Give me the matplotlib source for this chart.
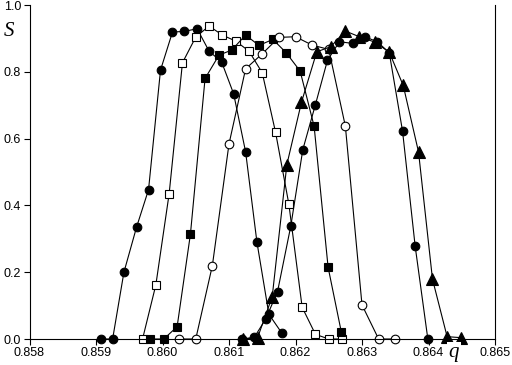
import matplotlib
matplotlib.use("Agg")
import matplotlib.pyplot as plt

# Series A: filled circles (leftmost)
qa = [0.85907, 0.85925, 0.85942, 0.85961, 0.85979, 0.85997, 0.86015, 0.86033,
      0.86052, 0.86070, 0.86089, 0.86107, 0.86125, 0.86142, 0.86160, 0.86179]
sa = [0.0, 0.0, 0.20, 0.335, 0.447, 0.805, 0.919, 0.921,
      0.929, 0.862, 0.829, 0.734, 0.56, 0.29, 0.074, 0.019]

# Series B: open squares
qb = [0.8597, 0.8599, 0.8601, 0.8603, 0.8605, 0.8607, 0.8609, 0.8611,
      0.8613, 0.8615, 0.8617, 0.8619, 0.8621, 0.8623, 0.8625, 0.8627]
sb = [0.0, 0.162, 0.435, 0.827, 0.904, 0.937, 0.91, 0.892,
      0.862, 0.797, 0.619, 0.404, 0.095, 0.014, 0.0, 0.0]

# Series C: filled squares
qc = [0.85981, 0.86002, 0.86022, 0.86042, 0.86064, 0.86085, 0.86104, 0.86125,
      0.86145, 0.86166, 0.86186, 0.86207, 0.86228, 0.86249, 0.86269]
sc = [0.0, 0.0, 0.037, 0.314, 0.78, 0.85, 0.865, 0.91,
      0.879, 0.897, 0.857, 0.802, 0.637, 0.215, 0.02]

# Series D: open circles
qd = [0.86025, 0.86050, 0.86075, 0.86100, 0.86125, 0.86150, 0.86175,
      0.86200, 0.86225, 0.86250, 0.86275, 0.86300, 0.86325, 0.86350]
sd = [0.0, 0.0, 0.22, 0.584, 0.809, 0.854, 0.903,
      0.905, 0.88, 0.867, 0.637, 0.102, 0.0, 0.0]

# Series E: filled circles (right)
qe = [0.86119, 0.86138, 0.86155, 0.86173, 0.86193, 0.86211, 0.86230, 0.86248,
      0.86266, 0.86286, 0.86304, 0.86323, 0.86341, 0.86361, 0.86380, 0.86399]
se = [0.0, 0.005, 0.059, 0.142, 0.339, 0.567, 0.702, 0.834,
      0.89, 0.885, 0.905, 0.89, 0.857, 0.622, 0.277, 0.0]

# Series F: filled triangles
qf = [0.86121, 0.86143, 0.86165, 0.86187, 0.86209, 0.86232, 0.86253, 0.86275,
      0.86296, 0.86319, 0.86341, 0.86362, 0.86385, 0.86406, 0.86428, 0.86449]
sf = [0.0, 0.004, 0.127, 0.522, 0.709, 0.86, 0.875, 0.922,
      0.905, 0.889, 0.859, 0.759, 0.56, 0.179, 0.007, 0.004]

xticks = [0.858, 0.859, 0.860, 0.861, 0.862, 0.863, 0.864, 0.865]
xticklabels = ["0.858", "0.859", "0.860", "0.861", "0.862", "0.863", "0.864", "0.865"]
yticks = [0.0, 0.2, 0.4, 0.6, 0.8, 1.0]
yticklabels = ["0.0", "0.2", "0.4", "0.6", "0.8", "1.0"]

plt.rcParams['font.family'] = ['Liberation Sans', 'DejaVu Sans']

fig = plt.figure(figsize=(5.12, 3.65), dpi=100)
ax = fig.add_axes([29.5 / 512, 26 / 365, (495 - 29.5) / 512, (339 - 5) / 365])

lw = 0.8
common = dict(color='black', linewidth=lw, markeredgecolor='black', markeredgewidth=0.8)
ax.plot(qa, sa, marker='o', markersize=6.2, markerfacecolor='black', **common)
ax.plot(qb, sb, marker='s', markersize=6.0, markerfacecolor='white', **common)
ax.plot(qc, sc, marker='s', markersize=6.0, markerfacecolor='black', **common)
ax.plot(qd, sd, marker='o', markersize=6.2, markerfacecolor='white', **common)
ax.plot(qe, se, marker='o', markersize=6.2, markerfacecolor='black', **common)
ax.plot(qf, sf, marker='^', markersize=8.0, markerfacecolor='black', **common)

ax.set_xlim(0.858, 0.865)
ax.set_ylim(0.0, 1.0)
ax.set_xticks(xticks)
ax.set_xticklabels(xticklabels)
ax.set_yticks(yticks)
ax.set_yticklabels(yticklabels)
ax.tick_params(direction='out', length=4, width=0.8, labelsize=9, pad=2, colors='black')
ax.spines['top'].set_visible(False)
for s in ['left', 'bottom', 'right']:
    ax.spines[s].set_linewidth(0.8)
    ax.spines[s].set_color('black')
for line in ax.lines:
    line.set_clip_on(False)

fig.text(9 / 512, 1 - 31 / 365, 'S', family='Liberation Serif', style='italic',
         fontsize=15, ha='center', va='center')
fig.text(454 / 512, 1 - 353 / 365, 'q', family='Liberation Serif', style='italic',
         fontsize=15, ha='center', va='center', zorder=10,
         bbox=dict(facecolor='white', edgecolor='none', pad=1.2))

fig.savefig('out.png', dpi=100, facecolor='white')
